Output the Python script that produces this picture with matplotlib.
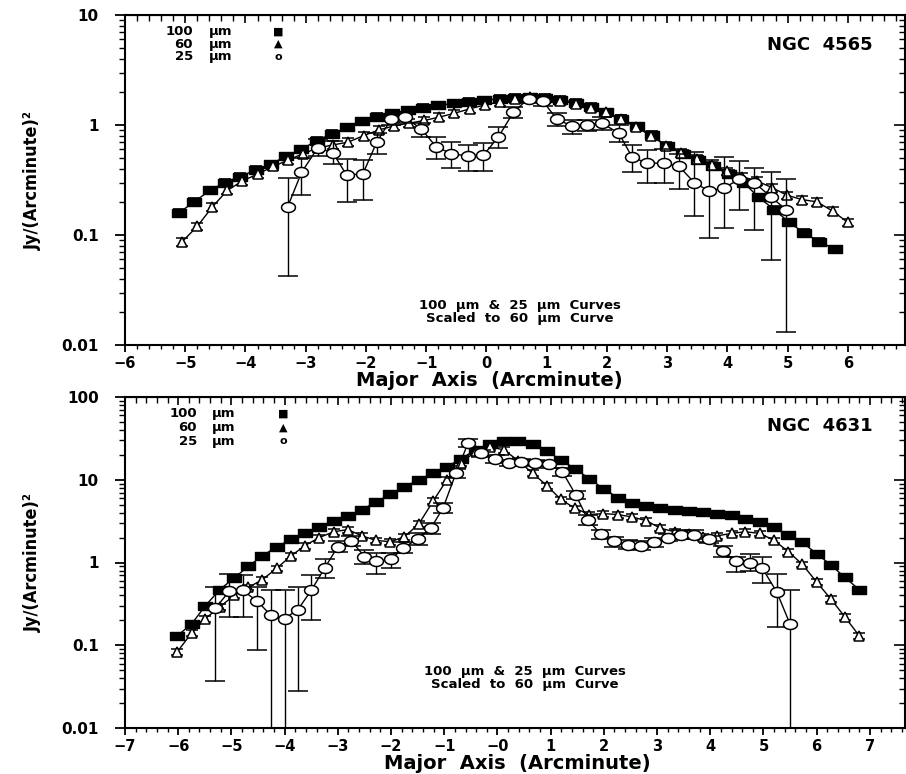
import matplotlib.pyplot as plt
import numpy as np
from matplotlib.ticker import FixedLocator, MultipleLocator, LogLocator, NullFormatter

plt.rcParams['font.family'] = ['DejaVu Sans']
plt.rcParams['font.weight'] = 'bold'

# ---- NGC 4565 (top panel) ----
top_sq_x = [-5.10, -4.85, -4.59, -4.34, -4.09, -3.83, -3.58, -3.33, -3.07, -2.82,
            -2.57, -2.31, -2.06, -1.81, -1.56, -1.30, -1.05, -0.80, -0.54, -0.29,
            -0.04, 0.22, 0.47, 0.72, 0.98, 1.23, 1.48, 1.74, 1.99, 2.24,
            2.50, 2.75, 3.00, 3.26, 3.51, 3.76, 4.02, 4.27, 4.52, 4.78,
            5.03, 5.28, 5.53, 5.79]
top_sq_y = [0.16, 0.20, 0.255, 0.30, 0.34, 0.39, 0.44, 0.52, 0.60, 0.72,
            0.83, 0.95, 1.08, 1.18, 1.28, 1.36, 1.44, 1.51, 1.57, 1.63,
            1.68, 1.73, 1.77, 1.79, 1.77, 1.70, 1.60, 1.46, 1.30, 1.14,
            0.97, 0.81, 0.64, 0.55, 0.48, 0.42, 0.36, 0.30, 0.22, 0.17,
            0.13, 0.104, 0.087, 0.074]

top_tri_x = [-5.05, -4.80, -4.55, -4.30, -4.05, -3.79, -3.54, -3.29, -3.04, -2.79,
             -2.54, -2.29, -2.04, -1.79, -1.54, -1.28, -1.03, -0.78, -0.53, -0.28,
             -0.03, 0.22, 0.47, 0.72, 0.97, 1.23, 1.48, 1.73, 1.98, 2.23,
             2.48, 2.73, 2.98, 3.23, 3.49, 3.74, 3.99, 4.24, 4.49, 4.74,
             4.99, 5.24, 5.49, 5.75, 6.00]
top_tri_y = [0.087, 0.12, 0.18, 0.255, 0.31, 0.36, 0.42, 0.48, 0.55, 0.62,
             0.66, 0.70, 0.80, 0.90, 0.98, 1.04, 1.10, 1.18, 1.28, 1.40,
             1.52, 1.63, 1.72, 1.78, 1.74, 1.66, 1.56, 1.44, 1.30, 1.13,
             0.96, 0.80, 0.65, 0.56, 0.49, 0.43, 0.38, 0.34, 0.31, 0.27,
             0.23, 0.21, 0.20, 0.165, 0.13]

top_ci_x = [-3.30, -3.07, -2.80, -2.55, -2.32, -2.05, -1.82, -1.58, -1.35, -1.08,
            -0.83, -0.58, -0.30, -0.05, 0.20, 0.45, 0.70, 0.94, 1.17, 1.42,
            1.67, 1.92, 2.20, 2.42, 2.67, 2.95, 3.20, 3.45, 3.70, 3.95,
            4.20, 4.45, 4.73, 4.98]
top_ci_y = [0.18, 0.37, 0.62, 0.56, 0.35, 0.36, 0.70, 1.13, 1.17, 0.92,
            0.63, 0.55, 0.52, 0.53, 0.78, 1.31, 1.74, 1.64, 1.13, 0.98,
            1.00, 1.04, 0.84, 0.51, 0.45, 0.45, 0.42, 0.30, 0.25, 0.27,
            0.32, 0.30, 0.22, 0.17]
top_ci_lo = [0.042, 0.23, 0.52, 0.44, 0.20, 0.21, 0.55, 1.00, 1.05, 0.78,
             0.49, 0.41, 0.38, 0.38, 0.62, 1.15, 1.60, 1.50, 0.98, 0.83,
             0.88, 0.90, 0.70, 0.37, 0.30, 0.30, 0.26, 0.15, 0.094, 0.116,
             0.17, 0.11, 0.059, 0.013]
top_ci_hi = [0.33, 0.50, 0.75, 0.72, 0.49, 0.48, 0.85, 1.25, 1.30, 1.05,
             0.78, 0.70, 0.66, 0.68, 0.95, 1.45, 1.88, 1.78, 1.28, 1.10,
             1.12, 1.18, 1.00, 0.66, 0.59, 0.60, 0.55, 0.57, 0.48, 0.51,
             0.47, 0.41, 0.37, 0.32]

# ---- NGC 4631 (bottom panel) ----
bot_x = [-6.02, -5.75, -5.49, -5.22, -4.95, -4.68, -4.42, -4.15, -3.88, -3.62,
         -3.35, -3.08, -2.81, -2.55, -2.28, -2.01, -1.75, -1.48, -1.21, -0.95,
         -0.68, -0.41, -0.14, 0.12, 0.39, 0.66, 0.93, 1.19, 1.46, 1.73,
         1.99, 2.26, 2.53, 2.80, 3.06, 3.33, 3.60, 3.86, 4.13, 4.40,
         4.66, 4.93, 5.20, 5.47, 5.73, 6.00, 6.27, 6.53, 6.80]
bot_sq_y = [0.13, 0.18, 0.30, 0.47, 0.65, 0.90, 1.20, 1.55, 1.90, 2.30,
            2.70, 3.15, 3.65, 4.35, 5.4, 6.7, 8.2, 10.0, 12.0, 14.3,
            18, 23, 27, 29, 29.5, 27, 22, 17.5, 13.5, 10.3,
            7.8, 6.1, 5.2, 4.8, 4.5, 4.3, 4.15, 4.05, 3.9, 3.7,
            3.4, 3.05, 2.65, 2.15, 1.75, 1.28, 0.93, 0.66, 0.47]
bot_tri_y = [0.083, 0.14, 0.21, 0.29, 0.40, 0.50, 0.62, 0.85, 1.20, 1.60,
             2.0, 2.35, 2.5, 2.10, 1.85, 1.78, 2.05, 2.9, 5.5, 10.0,
             16, 22, 25, 23, 17, 12, 8.5, 5.8, 4.5, 3.8,
             3.9, 3.8, 3.55, 3.2, 2.6, 2.35, 2.2, 2.05, 2.1, 2.25,
             2.35, 2.25, 1.85, 1.35, 0.95, 0.58, 0.36, 0.22, 0.13]

bot_ci_x = [-5.30, -5.04, -4.79, -4.51, -4.26, -4.00, -3.75, -3.50, -3.24, -3.00,
            -2.75, -2.50, -2.28, -2.00, -1.77, -1.49, -1.25, -1.02, -0.78, -0.55,
            -0.30, -0.04, 0.21, 0.45, 0.71, 0.96, 1.22, 1.47, 1.70, 1.94,
            2.20, 2.45, 2.70, 2.95, 3.20, 3.45, 3.70, 3.98, 4.23, 4.49,
            4.74, 4.98, 5.25, 5.50]
bot_ci_y = [0.28, 0.45, 0.46, 0.34, 0.23, 0.21, 0.27, 0.46, 0.87, 1.56,
            1.84, 1.18, 1.03, 1.09, 1.50, 1.94, 2.6, 4.6, 12, 28,
            21, 18, 16, 16.5, 16, 15.5, 12.5, 6.6, 3.3, 2.2,
            1.8, 1.65, 1.6, 1.75, 2.0, 2.15, 2.15, 1.9, 1.38, 1.03,
            0.98, 0.85, 0.44, 0.18]
bot_ci_lo = [0.037, 0.22, 0.22, 0.088, 0.001, 0.001, 0.028, 0.20, 0.65, 1.35,
             1.6, 0.95, 0.72, 0.85, 1.3, 1.65, 2.2, 4.0, 10.5, 25,
             19, 16, 14.5, 15, 14.5, 14, 11, 5.8, 2.8, 1.9,
             1.55, 1.45, 1.4, 1.55, 1.8, 1.9, 1.9, 1.7, 1.15, 0.76,
             0.8, 0.57, 0.165, 0.001]
bot_ci_hi = [0.51, 0.72, 0.70, 0.51, 0.47, 0.46, 0.51, 0.70, 1.10, 1.80,
             2.1, 1.4, 1.3, 1.3, 1.75, 2.25, 3.0, 5.2, 13.5, 31,
             23, 20, 17.5, 18, 17.5, 17, 14, 7.4, 3.8, 2.5,
             2.05, 1.85, 1.8, 1.95, 2.2, 2.45, 2.45, 2.1, 1.6, 1.18,
             1.25, 1.15, 0.72, 0.46]

top_xticks = [-6, -5, -4, -3, -2, -1, 0, 1, 2, 3, 4, 5, 6]
top_xlabels = ['\u22126', '\u22125', '\u22124', '\u22123', '\u22122', '\u22121', '0',
               '1', '2', '3', '4', '5', '6']
bot_xticks = [-7, -6, -5, -4, -3, -2, -1, 0, 1, 2, 3, 4, 5, 6, 7]
bot_xlabels = ['\u22127', '\u22126', '\u22125', '\u22124', '\u22123', '\u22122', '\u22121',
               '\u22120', '1', '2', '3', '4', '5', '6', '7']
top_yticks = [0.01, 0.1, 1, 10]
top_ylabels = ['0.01', '0.1', '1', '10']
bot_yticks = [0.01, 0.1, 1, 10, 100]
bot_ylabels = ['0.01', '0.1', '1', '10', '100']

SQ_ERR = 0.08  # small relative error on 100/60 um points

sq_marker = [(-1, -0.6), (1, -0.6), (1, 0.6), (-1, 0.6), (-1, -0.6)]
th = np.linspace(0, 2 * np.pi, 41)
ell_marker = list(zip(np.cos(th), 0.72 * np.sin(th)))


def panel(ax, sx, sy, tx, ty, cx, cy, clo, chi, xlim, ylim,
          xticks, xlabels, yticks, ylabels, name, leg_pos, note_pos, xlab_pos):
    sy = np.array(sy)
    ty = np.array(ty)
    cy = np.array(cy)
    ax.set_yscale('log')
    ax.errorbar(sx, sy, yerr=SQ_ERR * sy, fmt='-', color='k', lw=1,
                marker=sq_marker, ms=9.5, mfc='k', mec='k',
                elinewidth=1, capsize=4.5, capthick=1.2, zorder=3)
    ax.errorbar(tx, ty, yerr=SQ_ERR * ty, fmt='-', color='k', lw=1,
                marker='^', ms=7, mfc='white', mec='k', mew=1.1,
                elinewidth=1, capsize=4.5, capthick=1.2, zorder=4)
    ax.errorbar(cx, cy, yerr=[cy - np.array(clo), np.array(chi) - cy],
                fmt='-', color='k', lw=1,
                marker=ell_marker, ms=10, mfc='white', mec='k', mew=1.1,
                elinewidth=1, capsize=7, capthick=1, zorder=5)

    ax.set_xlim(*xlim)
    ax.set_ylim(*ylim)
    ax.xaxis.set_major_locator(FixedLocator(xticks))
    ax.set_xticklabels(xlabels)
    ax.xaxis.set_minor_locator(MultipleLocator(0.2))
    ax.yaxis.set_major_locator(FixedLocator(yticks))
    ax.set_yticklabels(ylabels)
    ax.yaxis.set_minor_locator(LogLocator(base=10, subs=np.arange(2, 10)))
    ax.yaxis.set_minor_formatter(NullFormatter())
    ax.tick_params(which='both', direction='out', top=False, right=False)
    ax.tick_params(axis='y', which='major', length=7, width=1.3, pad=12, labelsize=11)
    ax.tick_params(axis='y', which='minor', length=4, width=1)
    ax.tick_params(axis='x', which='major', length=5, width=1.3, pad=3, labelsize=10.5)
    ax.tick_params(axis='x', which='minor', length=3, width=1)
    for s in ax.spines.values():
        s.set_linewidth(1.5)

    top = ax.secondary_xaxis('top')
    top.xaxis.set_major_locator(FixedLocator(xticks))
    top.xaxis.set_minor_locator(MultipleLocator(0.2))
    top.tick_params(which='both', direction='in', labeltop=False)
    top.tick_params(which='major', length=6, width=1.2)
    top.tick_params(which='minor', length=4, width=1)
    right = ax.secondary_yaxis('right')
    right.yaxis.set_major_locator(FixedLocator(yticks))
    right.yaxis.set_minor_locator(LogLocator(base=10, subs=np.arange(2, 10)))
    right.yaxis.set_minor_formatter(NullFormatter())
    right.tick_params(which='both', direction='in', labelright=False)
    right.tick_params(which='major', length=8, width=1.2)
    right.tick_params(which='minor', length=4, width=1)

    # legend block
    lx_num, lx_um, lx_sym, ly = leg_pos
    for lab, sym, y in zip(['100', '60', '25'], ['\u25a0', '\u25b2', 'o'], ly):
        ax.text(lx_num, y, lab, transform=ax.transAxes, ha='right', va='center', fontsize=9.5)
        ax.text(lx_um, y, '\u00b5m', transform=ax.transAxes, ha='left', va='center', fontsize=9.5)
        ax.text(lx_sym, y, sym, transform=ax.transAxes, ha='center', va='center', fontsize=8)

    ax.text(0.958, leg_pos[3][0] - 0.04, name, transform=ax.transAxes,
            ha='right', va='center', fontsize=13)
    ax.text(note_pos[0], note_pos[1], '100  \u00b5m  &  25  \u00b5m  Curves',
            transform=ax.transAxes, ha='center', va='center', fontsize=9.5)
    ax.text(note_pos[0], note_pos[2], 'Scaled  to  60  \u00b5m  Curve',
            transform=ax.transAxes, ha='center', va='center', fontsize=9.5)
    ax.text(xlab_pos[0], xlab_pos[1], 'Major  Axis  (Arcminute)', transform=ax.transAxes,
            ha='center', va='center', fontsize=14)
    ax.text(-0.118, 0.5, 'Jy/(Arcminute)\u00b2', transform=ax.transAxes, rotation=90,
            ha='center', va='center', fontsize=13, fontstretch='condensed')


fig = plt.figure(figsize=(9.06, 7.74), dpi=100)
ax1 = fig.add_axes([125 / 906, 1 - 345 / 774, 780 / 906, 330 / 774])
ax2 = fig.add_axes([125 / 906, 1 - 728 / 774, 780 / 906, 331 / 774])

panel(ax1, top_sq_x, top_sq_y, top_tri_x, top_tri_y, top_ci_x, top_ci_y,
      top_ci_lo, top_ci_hi, (-6, 6.95), (0.01, 10),
      top_xticks, top_xlabels, top_yticks, top_ylabels, 'NGC  4565',
      (0.087, 0.108, 0.196, [0.950, 0.912, 0.874]),
      (0.506, 0.12, 0.081), (0.467, -0.108))
panel(ax2, bot_x, bot_sq_y, bot_x, bot_tri_y, bot_ci_x, bot_ci_y,
      bot_ci_lo, bot_ci_hi, (-7, 7.66), (0.01, 100),
      bot_xticks, bot_xlabels, bot_yticks, bot_ylabels, 'NGC  4631',
      (0.092, 0.112, 0.203, [0.951, 0.908, 0.867]),
      (0.513, 0.17, 0.131), (0.503, -0.107))

fig.savefig('out.png', dpi=100)
